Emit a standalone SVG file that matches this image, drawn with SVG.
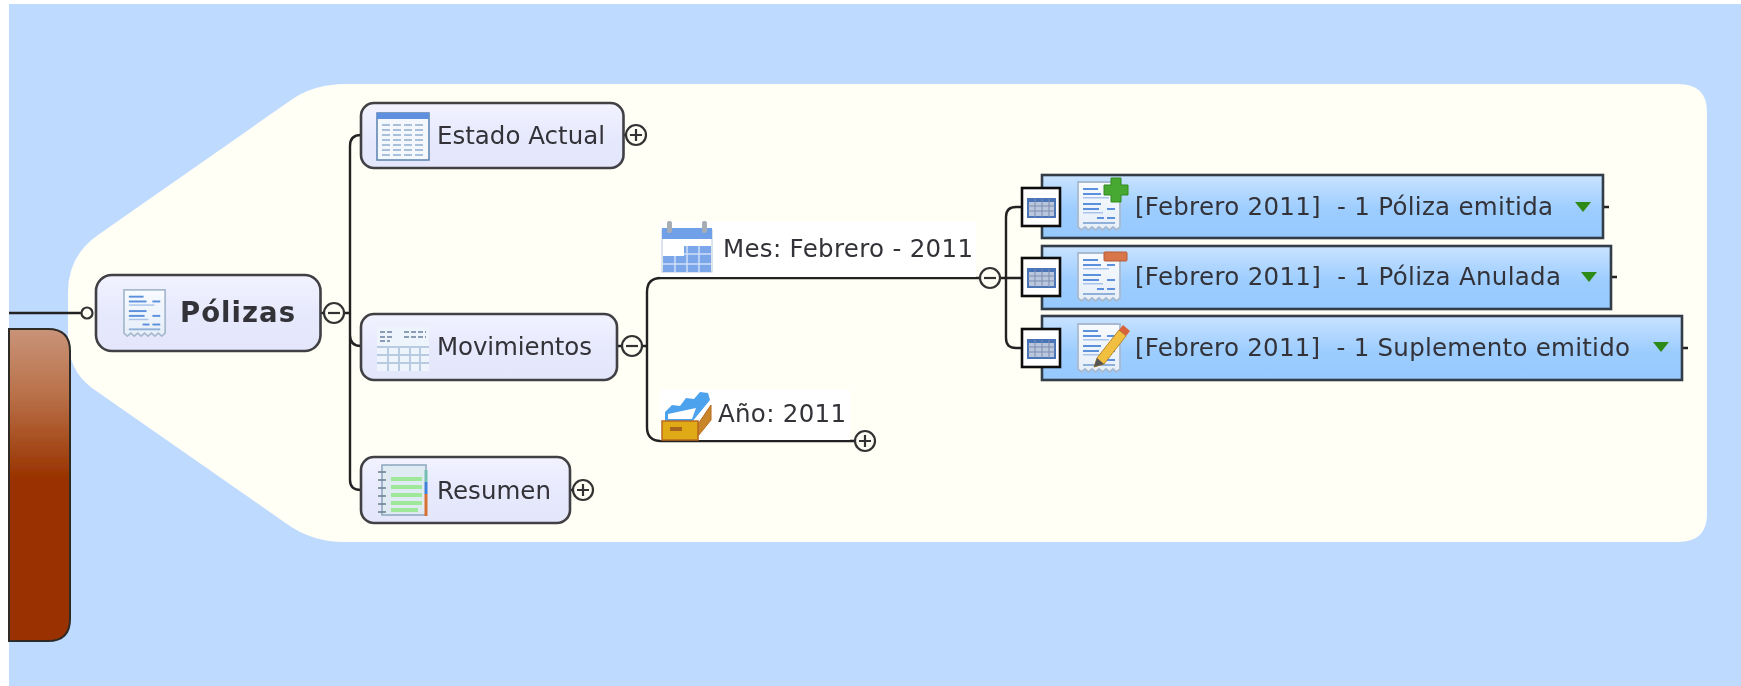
<svg xmlns="http://www.w3.org/2000/svg" xmlns:xlink="http://www.w3.org/1999/xlink" width="1741" height="686" viewBox="0 0 1741 686">
<style>
.t{font-family:"DejaVu Sans","Liberation Sans",sans-serif;font-size:24.5px;fill:#333338}
.b{font-weight:bold;font-size:27.5px}
.node{fill:url(#ng);stroke:#404044;stroke-width:2.6}
.blue{fill:url(#bg);stroke:#333c46;stroke-width:2.6}
.c{fill:none;stroke:#222;stroke-width:2.4}
.ci{fill:#fffff5;stroke:#333;stroke-width:2.2}
.mk{stroke:#333;stroke-width:2.2;fill:none}
.tri{fill:#2f8a12}
.box{fill:#fff;stroke:#111;stroke-width:2.6}
.ln{fill:#5a90dc}
</style>
<defs>
<filter id="soft" filterUnits="userSpaceOnUse" x="0" y="0" width="1741" height="686"><feGaussianBlur stdDeviation="0.6"/></filter>
<linearGradient id="ng" x1="0" y1="0" x2="0" y2="1"><stop offset="0" stop-color="#f2f2ff"/><stop offset="0.55" stop-color="#e6e8fc"/><stop offset="1" stop-color="#e4e7fb"/></linearGradient>
<linearGradient id="bg" x1="0" y1="0" x2="0" y2="1"><stop offset="0" stop-color="#c9e3ff"/><stop offset="0.55" stop-color="#9dcdff"/><stop offset="1" stop-color="#96c9ff"/></linearGradient>
<linearGradient id="br" gradientUnits="userSpaceOnUse" x1="0" y1="329" x2="0" y2="478"><stop offset="0" stop-color="#c99479"/><stop offset="0.45" stop-color="#b97048"/><stop offset="1" stop-color="#993300"/></linearGradient>
<linearGradient id="pap" x1="0" y1="0" x2="0" y2="1"><stop offset="0" stop-color="#f8fbff"/><stop offset="1" stop-color="#e6eef8"/></linearGradient>
<g id="doc">
<path d="M1 1H43V46l-3.500 3-3.500-3-3.500 3-3.500-3-3.500 3-3.500-3-3.500 3-3.500-3-3.500 3-3.500-3-3.500 3-3.500-3Z" fill="url(#pap)" stroke="#a8bacf" stroke-width="1.800"/>
<rect class="ln" x="6" y="7" width="15" height="2"/><rect class="ln" x="6" y="12" width="18" height="2"/><rect class="ln" x="30" y="12" width="8" height="2"/>
<rect x="6" y="16" width="26" height="1.500" fill="#a9c4e8"/>
<rect class="ln" x="6" y="22" width="18" height="2"/><rect class="ln" x="30" y="27" width="8" height="2"/><rect class="ln" x="6" y="27" width="16" height="2"/>
<rect x="6" y="31" width="20" height="1.500" fill="#a9c4e8"/>
<rect class="ln" x="20" y="36" width="7" height="2"/><rect class="ln" x="30" y="36" width="8" height="2"/>
<rect x="6" y="41" width="32" height="2" fill="#8fb0d8"/>
</g>
<g id="mini">
<rect class="box" x="0" y="0" width="38" height="38"/>
<rect x="6" y="11" width="27" height="18" fill="#b9c6dc" stroke="#4a74b8" stroke-width="2"/>
<rect x="6" y="11" width="27" height="3" fill="#4a74b8"/>
<path d="M6 18H33M6 23H33M13 11V29M20 11V29M27 11V29" stroke="#7f8db0" stroke-width="1"/>
</g>
</defs>
<g filter="url(#soft)">
<rect x="0" y="0" width="1741" height="686" fill="#fff"/>
<rect id="background" x="9" y="4" width="1732" height="682" fill="#bfdaff"/>
<path id="region" d="M345 84H1678Q1707 84 1707 112V514Q1707 542 1678 542H345Q312 542 287 524L92 388Q68 370 68 338V292Q68 256 98 235L294 98Q316 84 345 84Z" fill="#fffff5"/>

<g id="connectors">
<path class="c" d="M9 313H82" stroke-width="3"/>
<path class="c" d="M321 313H350M350 146Q350 135 361 135M350 146V480Q350 490 361 490M350 335Q350 346 361 346"/>
<path class="c" d="M624 135H628M570 490H574M617 346H623M642 346H647"/>
<path class="c" d="M661 278Q647 278 647 292V427Q647 441 661 441H856M661 278H980M1000 278H1022"/>
<path class="c" d="M1022 207H1016Q1006 207 1006 217V338Q1006 348 1016 348H1022"/>
<path class="c" d="M1603 207H1609M1611 277H1617M1682 348H1688"/>
</g>

<g id="node-brown"><path d="M9 329H48Q70 329 70 351V619Q70 641 48 641H9Z" fill="url(#br)" stroke="#2e2a28" stroke-width="2"/></g>

<g id="node-polizas">
<circle cx="87" cy="313" r="5.500" class="ci"/>
<rect class="node" x="96" y="275" width="224.500" height="76" rx="16"/>
<use xlink:href="#doc" href="#doc" transform="translate(123 289) scale(.98 .96)"/>
<text class="t b" x="180" y="322" textLength="115">Pólizas</text>
<circle cx="334" cy="313" r="10" class="ci"/><path class="mk" d="M328 313H340"/>
</g>

<g id="node-estado">
<rect class="node" x="361" y="103" width="262.500" height="65" rx="13"/>
<rect x="377" y="113" width="52" height="47" fill="#f4f8fd" stroke="#5a80ad" stroke-width="1.500"/>
<rect x="377" y="113" width="52" height="6" fill="#5f90e0"/>
<path d="M382 125H424M382 130H424M382 135H424M382 140H424M382 145H424M382 150H424M382 155H424" stroke="#a9c0dc" stroke-width="2" stroke-dasharray="8 3"/>
<text class="t" x="437" y="144" textLength="168">Estado Actual</text>
<circle cx="636" cy="135" r="10" class="ci"/><path class="mk" d="M630 135H642M636 129V141"/>
</g>

<g id="node-movimientos">
<rect class="node" x="361" y="314" width="256" height="66" rx="13"/>
<rect x="377" y="327" width="52" height="44" fill="#eef4fb"/>
<path d="M380 332H394M380 337H394M380 341H390M404 332H426M404 337H426" stroke="#8a9db5" stroke-width="2" stroke-dasharray="5 2"/>
<path d="M377 347H429M377 355H429M377 363H429M388 347V371M399 347V371M410 347V371M420 347V371" stroke="#b9cbe0" stroke-width="2" fill="none"/>
<text class="t" x="437" y="355" textLength="155">Movimientos</text>
<circle cx="632" cy="346" r="10" class="ci"/><path class="mk" d="M626 346H638"/>
</g>

<g id="node-resumen">
<rect class="node" x="361" y="457" width="209" height="66" rx="13"/>
<rect x="382" y="465" width="44" height="50" fill="#dfeaf2" stroke="#8ba7bf" stroke-width="1.500"/>
<path d="M391 479H422M391 487H422M391 495H422M391 503H422M391 510H418" stroke="#9fe89a" stroke-width="4"/>
<path d="M378 472H386M378 480H386M378 488H386M378 496H386M378 504H386M378 512H386" stroke="#6b7f8f" stroke-width="1.500"/>
<path d="M426 470V482" stroke="#73bfb0" stroke-width="3"/><path d="M426 482V494" stroke="#3f80d8" stroke-width="3"/><path d="M426 494V516" stroke="#d87030" stroke-width="3"/>
<text class="t" x="437" y="499" textLength="114">Resumen</text>
<circle cx="583" cy="490" r="10" class="ci"/><path class="mk" d="M577 490H589M583 484V496"/>
</g>

<g id="node-mes">
<rect x="660" y="221" width="316" height="56" fill="#fff"/>
<rect x="662" y="230" width="50" height="42" fill="#fff" stroke="#b9c8dc" stroke-width="1"/>
<rect x="662" y="228" width="50" height="11" fill="#6fa0e8"/>
<rect x="667" y="221" width="5" height="12" rx="2" fill="#a7adb5"/><rect x="702" y="221" width="5" height="12" rx="2" fill="#a7adb5"/>
<path d="M684 246H711V272H663V256H684Z" fill="#7ba6ea"/>
<path d="M663 264H711M675 256V272M687 246V272M699 246V272M684 254H711" stroke="#cfe0f8" stroke-width="1.500" fill="none"/>
<text class="t" x="723" y="257" textLength="250">Mes: Febrero - 2011</text>
<circle cx="990" cy="278" r="10" class="ci"/><path class="mk" d="M984 278H996"/>
</g>

<g id="node-ano">
<rect x="660" y="390" width="190" height="50" fill="#fff"/>
<path d="M665 412L672 405 680 406 686 398 694 399 700 392 708 393 710 400 692 422H665Z" fill="#4ea2ee"/>
<path d="M668 414L696 408 692 419H668Z" fill="#fff"/>
<path d="M698 424L711 405V420L698 436Z" fill="#c9852a" stroke="#b86a1c" stroke-width="1"/>
<rect x="662" y="421" width="36" height="19" fill="#e0aa18" stroke="#b86a1c" stroke-width="1.500"/>
<rect x="670" y="427" width="12" height="4" fill="#a8641c"/>
<text class="t" x="718" y="422" textLength="128">Año: 2011</text>
<circle cx="865" cy="441" r="10" class="ci"/><path class="mk" d="M859 441H871M865 435V447"/>
</g>

<g id="node-emitida">
<rect class="blue" x="1042" y="175" width="561" height="63"/>
<use xlink:href="#mini" href="#mini" x="1022" y="188"/>
<use xlink:href="#doc" href="#doc" x="1077" y="181"/>
<path d="M1111 178h10v7h7v10h-7v7h-10v-7h-7v-10h7z" fill="#46a832" stroke="#2f8a1e" stroke-width="1"/>
<text class="t" x="1135" y="215" textLength="418" xml:space="preserve">[Febrero 2011]  - 1 Póliza emitida</text>
<path class="tri" d="M1575 202H1591L1583 212Z"/>
</g>

<g id="node-anulada">
<rect class="blue" x="1042" y="246" width="569" height="63"/>
<use xlink:href="#mini" href="#mini" x="1022" y="258"/>
<use xlink:href="#doc" href="#doc" x="1077" y="252"/>
<rect x="1104" y="252" width="23" height="9" rx="1" fill="#d8744a" stroke="#b85a34" stroke-width="1"/>
<text class="t" x="1135" y="285" textLength="426" xml:space="preserve">[Febrero 2011]  - 1 Póliza Anulada</text>
<path class="tri" d="M1581 272H1597L1589 282Z"/>
</g>

<g id="node-suplemento">
<rect class="blue" x="1042" y="316" width="640" height="64"/>
<use xlink:href="#mini" href="#mini" x="1022" y="329"/>
<use xlink:href="#doc" href="#doc" x="1077" y="323"/>
<path d="M1097 358L1119 330 1126 336 1104 364 1094 367Z" fill="#f2c040" stroke="#b8862a" stroke-width="1"/>
<path d="M1119 330L1123 325 1130 331 1126 336Z" fill="#d8643a"/>
<path d="M1094 367L1097 358 1104 364Z" fill="#555"/>
<text class="t" x="1135" y="356" textLength="495" xml:space="preserve">[Febrero 2011]  - 1 Suplemento emitido</text>
<path class="tri" d="M1653 342H1669L1661 352Z"/>
</g>
</g>
</svg>
